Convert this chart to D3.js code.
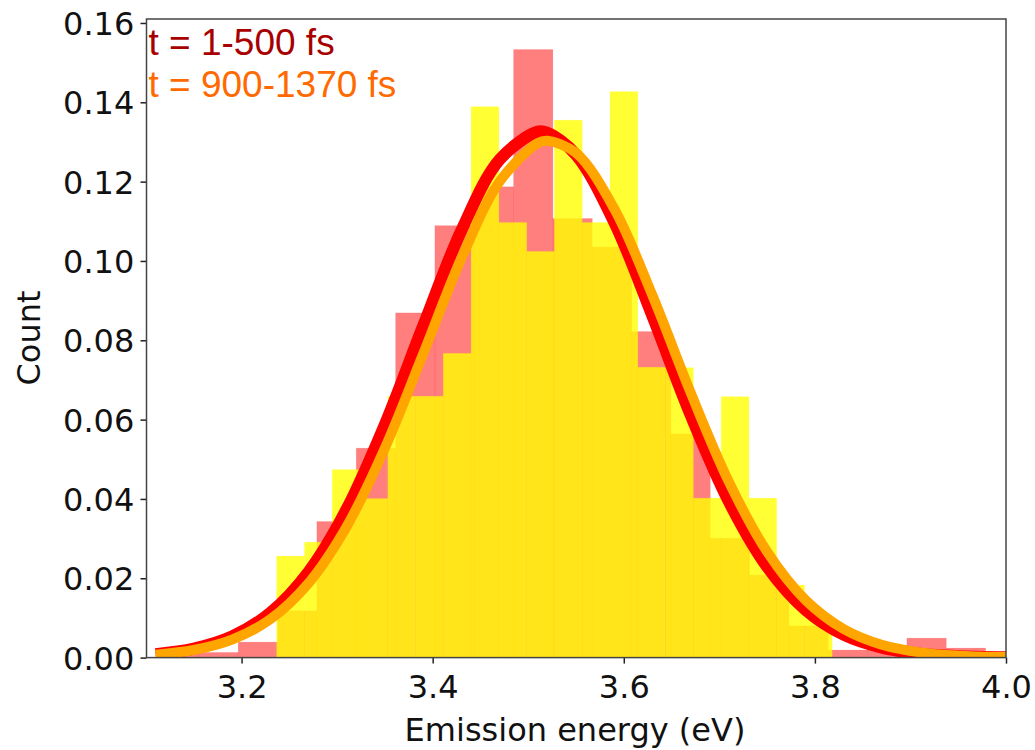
<!DOCTYPE html>
<html><head><meta charset="utf-8">
<script src="https://cdn.jsdelivr.net/npm/d3@7"></script>
<style>body{margin:0;background:#fff}</style>
</head><body>
<svg id="chart" width="1035" height="750"></svg>
<script>
// ---- data ----
const redEdges = [3.1142,3.1553,3.1965,3.2377,3.2788,3.3200,3.3612,3.4023,3.4435,3.4847,3.5258,3.5670,3.6082,3.6493,3.6905,3.7317,3.7728,3.8140,3.8552,3.8963,3.9375,3.9787];
const redValues = [0.0013,0.0013,0.0039,0.0118,0.0343,0.0528,0.0869,0.1089,0.1187,0.1533,0.1107,0.1035,0.0822,0.0564,0.0301,0.0208,0.0080,0.0019,0.0019,0.0049,0.0024];
const yellowEdges = [3.2367,3.2658,3.2948,3.3239,3.3530,3.3821,3.4111,3.4402,3.4693,3.4984,3.5274,3.5565,3.5856,3.6147,3.6437,3.6728,3.7019,3.7310,3.7600,3.7891,3.8181];
const yellowValues = [0.0256,0.0291,0.0474,0.0401,0.0659,0.0659,0.0767,0.1389,0.1097,0.1024,0.1355,0.1097,0.1427,0.0732,0.0731,0.0402,0.0658,0.0402,0.0183,0.0107];
const curveX = [3.11,3.15,3.19,3.23,3.27,3.31,3.35,3.39,3.43,3.47,3.51,3.52,3.55,3.59,3.63,3.67,3.71,3.75,3.79,3.83,3.87,3.91,3.95,3.99,4.00];
const redCurve = [0.00088,0.00228,0.00533,0.01128,0.02158,0.03743,0.05878,0.08359,0.10766,0.12554,0.1326,0.1323,0.12679,0.10981,0.08611,0.06116,0.03933,0.0229,0.01208,0.00577,0.0025,0.00098,0.00035,0.00011,0.0001];
const orangeCurve = [0.00073,0.00191,0.00451,0.00966,0.01876,0.03306,0.05283,0.07656,0.10064,0.11998,0.12973,0.1303,0.12722,0.11315,0.09128,0.06678,0.04431,0.02667,0.01455,0.00721,0.00324,0.00132,0.00049,0.00016,0.00014];
const xTicks = [3.2,3.4,3.6,3.8,4.0];
const yTicks = [0.00,0.02,0.04,0.06,0.08,0.10,0.12,0.14,0.16];
const labels = ["t = 1-500 fs","t = 900-1370 fs"];

// ---- layout ----
const L = 146.5, R = 1006, T = 19, B = 657.6;
const svg = d3.select("#chart");
const x = d3.scaleLinear().domain([3.1005, 4.0]).range([L, R]);
const y = d3.scaleLinear().domain([0, 0.161]).range([B, T]);

svg.append("defs").append("clipPath").attr("id","clip")
  .append("rect").attr("x",L).attr("y",T).attr("width",R-L).attr("height",B-T);

const g = svg.append("g").attr("clip-path","url(#clip)");

function bars(edges, vals, color, op) {
  g.append("g").selectAll("rect").data(vals).join("rect")
    .attr("x", (d,i) => x(edges[i]))
    .attr("width", (d,i) => x(edges[i+1]) - x(edges[i]))
    .attr("y", d => y(d))
    .attr("height", d => y(0) - y(d))
    .attr("fill", color).attr("fill-opacity", op)
    .attr("stroke", color).attr("stroke-opacity", 0.12).attr("stroke-width", 0.8);
}
bars(redEdges, redValues, "#ff0000", 0.5);
bars(yellowEdges, yellowValues, "#ffff00", 0.8);

const line = d3.line().x(d => x(d[0])).y(d => y(d[1])).curve(d3.curveCatmullRom);
g.append("path").datum(curveX.map((v,i)=>[v, redCurve[i]]))
  .attr("d", line).attr("fill","none").attr("stroke","#ff0000").attr("stroke-width",12);
g.append("path").datum(curveX.map((v,i)=>[v, orangeCurve[i]]))
  .attr("d", line).attr("fill","none").attr("stroke","#ffa500").attr("stroke-width",10);

// axes
const xa = svg.append("g").attr("transform",`translate(0,${B})`)
  .call(d3.axisBottom(x).tickValues(xTicks).tickFormat(d3.format(".1f")).tickSize(6).tickSizeOuter(0));
const ya = svg.append("g").attr("transform",`translate(${L},0)`)
  .call(d3.axisLeft(y).tickValues(yTicks).tickFormat(d3.format(".2f")).tickSize(6).tickSizeOuter(0));
[xa, ya].forEach(a => {
  a.select(".domain").remove();
  a.selectAll("line").attr("stroke","#222").attr("stroke-width",1.5);
  a.selectAll("text").attr("font-family","DejaVu Sans").attr("font-size",32).attr("fill","#111");
});
xa.selectAll("text").attr("dy","0.98em");
ya.selectAll("text").attr("dx","-0.1em").attr("dy","0.36em");

svg.append("rect").attr("x",L).attr("y",T).attr("width",R-L).attr("height",B-T)
  .attr("fill","none").attr("stroke","#444").attr("stroke-width",1.5);

svg.append("text").attr("x",575).attr("y",741).attr("text-anchor","middle")
  .attr("font-family","DejaVu Sans").attr("font-size",32).attr("fill","#111").text("Emission energy (eV)");
svg.append("text").attr("transform","translate(40,338) rotate(-90)").attr("text-anchor","middle")
  .attr("font-family","DejaVu Sans").attr("font-size",32).attr("fill","#111").text("Count");

svg.append("text").attr("x",L+2).attr("y",55).attr("font-family","Liberation Sans, Arial").attr("font-size",37)
  .attr("fill","#a80000").text(labels[0]);
svg.append("text").attr("x",L+2).attr("y",97).attr("font-family","Liberation Sans, Arial").attr("font-size",37)
  .attr("fill","#ff6a00").text(labels[1]);
</script>
</body></html>
